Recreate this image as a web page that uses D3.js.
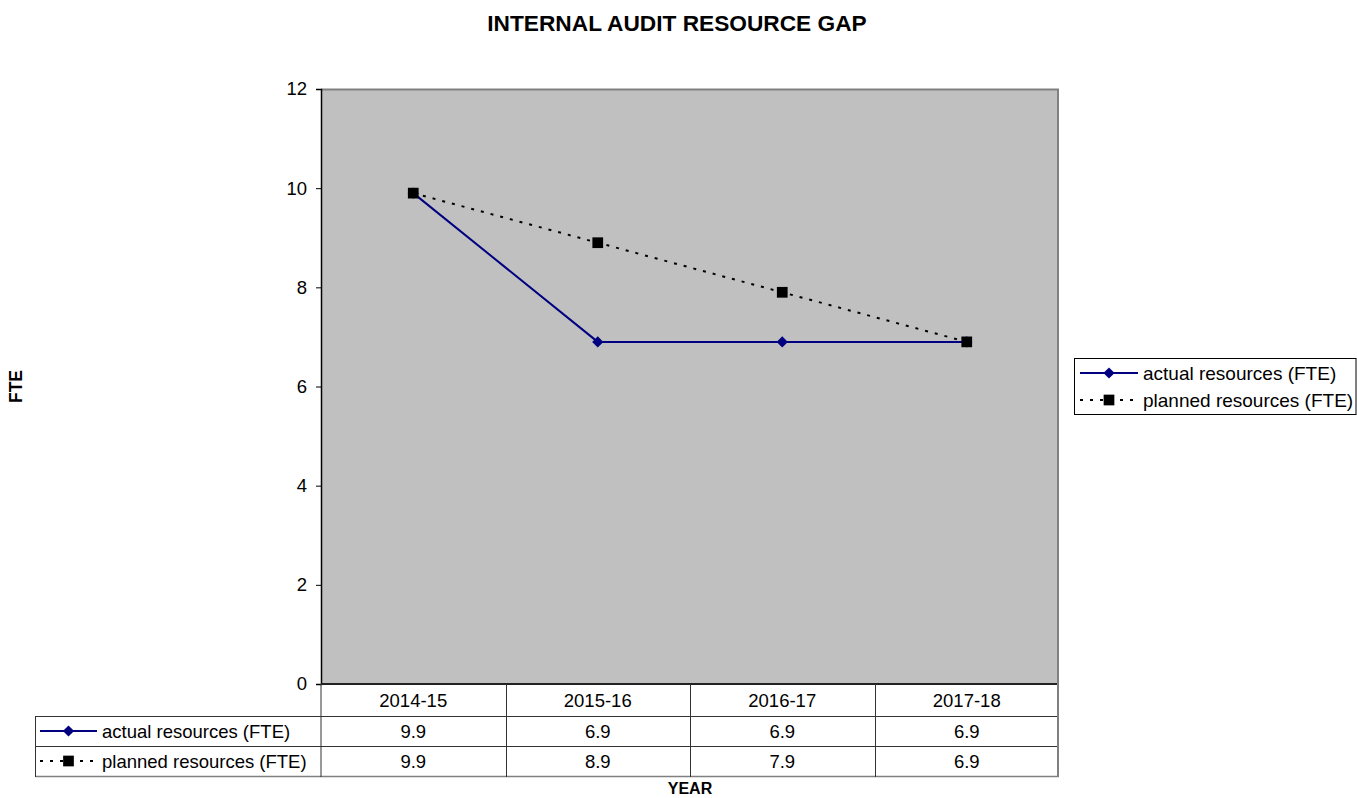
<!DOCTYPE html>
<html>
<head>
<meta charset="utf-8">
<script src="https://cdn.jsdelivr.net/npm/d3@7"></script>
<style>
  html, body { margin: 0; padding: 0; background: #fff; }
  svg { display: block; font-family: "Liberation Sans", Arial, sans-serif; }
</style>
</head>
<body>
<svg id="chart" width="1357" height="798"></svg>
<script>
const categories = ["2014-15", "2015-16", "2016-17", "2017-18"];
const actualValues = [9.9, 6.9, 6.9, 6.9];
const plannedValues = [9.9, 8.9, 7.9, 6.9];
const yTicks = [0, 2, 4, 6, 8, 10, 12];
const seriesNames = ["actual resources (FTE)", "planned resources (FTE)"];
const titleText = "INTERNAL AUDIT RESOURCE GAP";
const xTitle = "YEAR";
const yTitle = "FTE";

const svg = d3.select("#chart");
const plot = { left: 321, right: 1059, top: 89, bottom: 684 };
const FS = 18.5;

const x = d3.scaleBand().domain(categories).range([plot.left, plot.right]).padding(0);
const y = d3.scaleLinear().domain([0, 12]).range([plot.bottom, plot.top]);

// plot area
svg.append("rect")
  .attr("x", plot.left).attr("y", plot.top)
  .attr("width", plot.right - plot.left).attr("height", plot.bottom - plot.top)
  .attr("fill", "#c0c0c0");
svg.append("path")
  .attr("d", `M${plot.left},${plot.top + 0.5}H${plot.right - 1}V${plot.bottom}`)
  .attr("fill", "none").attr("stroke", "#808080").attr("stroke-width", 2);

// y axis
const yAxis = d3.axisLeft(y).tickValues(yTicks).tickSize(5).tickPadding(9).tickFormat(d3.format("d"));
const gy = svg.append("g").attr("transform", `translate(${plot.left},0)`).call(yAxis);
gy.select(".domain").attr("stroke", "#000").attr("stroke-width", 1.5);
gy.selectAll(".tick line").attr("stroke", "#000");
gy.selectAll(".tick text").attr("font-size", FS).attr("fill", "#000")
  .attr("font-family", "Liberation Sans, Arial, sans-serif");

// titles
svg.append("text").attr("x", 677).attr("y", 31).attr("text-anchor", "middle")
  .attr("font-weight", "bold").attr("font-size", 22.7).text(titleText);
svg.append("text").attr("x", (plot.left + plot.right) / 2).attr("y", 794).attr("text-anchor", "middle")
  .attr("font-weight", "bold").attr("font-size", 16).text(xTitle);
svg.append("text").attr("transform", `translate(22,${(plot.top + plot.bottom) / 2}) rotate(-90)`)
  .attr("text-anchor", "middle").attr("font-weight", "bold").attr("font-size", 17.5).text(yTitle);

// series lines
const line = d3.line().x((d, i) => x(categories[i]) + x.bandwidth() / 2).y(d => y(d));
svg.append("path").datum(plannedValues).attr("d", line)
  .attr("fill", "none").attr("stroke", "#000").attr("stroke-width", 2).attr("stroke-dasharray", "3,7");
svg.append("path").datum(actualValues).attr("d", line)
  .attr("fill", "none").attr("stroke", "#000080").attr("stroke-width", 2);

const diamond = d3.symbol().type(d3.symbolDiamond2).size(80);
const square = d3.symbol().type(d3.symbolSquare).size(115);

svg.append("g").selectAll("path").data(actualValues).join("path")
  .attr("d", diamond)
  .attr("transform", (d, i) => `translate(${x(categories[i]) + x.bandwidth() / 2},${y(d)})`)
  .attr("fill", "#000080");
svg.append("g").selectAll("path").data(plannedValues).join("path")
  .attr("d", square)
  .attr("transform", (d, i) => `translate(${x(categories[i]) + x.bandwidth() / 2},${y(d)})`)
  .attr("fill", "#000");

// data table
const rowTops = [684, 716, 746, 776];
const tableLeft = 35.5;
const tbl = svg.append("g");
categories.forEach(c => {
  tbl.append("text").attr("x", x(c) + x.bandwidth() / 2).attr("y", (rowTops[0] + rowTops[1]) / 2 + 7)
    .attr("text-anchor", "middle").attr("font-size", FS).text(c);
});
const rows = [actualValues, plannedValues];
rows.forEach((vals, r) => {
  const cy = (rowTops[r + 1] + rowTops[r + 2]) / 2;
  vals.forEach((v, i) => {
    tbl.append("text").attr("x", x(categories[i]) + x.bandwidth() / 2).attr("y", cy + 7)
      .attr("text-anchor", "middle").attr("font-size", FS).text(d3.format(".1f")(v));
  });
  tbl.append("text").attr("x", 102).attr("y", cy + 7).attr("font-size", FS).text(seriesNames[r]);
  tbl.append("line").attr("x1", 40).attr("x2", 97).attr("y1", cy).attr("y2", cy)
    .attr("stroke", r === 0 ? "#000080" : "#000").attr("stroke-width", 2)
    .attr("stroke-dasharray", r === 0 ? null : "3,7");
  tbl.append("path").attr("d", r === 0 ? diamond : square)
    .attr("transform", `translate(68.5,${cy})`).attr("fill", r === 0 ? "#000080" : "#000");
});
const gl = tbl.append("g").attr("stroke", "#333").attr("stroke-width", 1).attr("fill", "none");
gl.append("line").attr("x1", plot.left).attr("x2", plot.right).attr("y1", rowTops[0]).attr("y2", rowTops[0])
  .attr("stroke", "#222").attr("stroke-width", 2);
gl.append("line").attr("x1", tableLeft).attr("x2", plot.right).attr("y1", rowTops[1] + 0.5).attr("y2", rowTops[1] + 0.5);
gl.append("line").attr("x1", tableLeft).attr("x2", plot.right).attr("y1", rowTops[2] + 0.5).attr("y2", rowTops[2] + 0.5);
gl.append("line").attr("x1", tableLeft).attr("x2", plot.right).attr("y1", rowTops[3] + 0.5).attr("y2", rowTops[3] + 0.5)
  .attr("stroke", "#808080").attr("stroke-width", 1.5);
gl.append("line").attr("x1", tableLeft).attr("x2", tableLeft).attr("y1", rowTops[1]).attr("y2", rowTops[3] + 1);
gl.append("line").attr("x1", plot.left).attr("x2", plot.left).attr("y1", rowTops[0]).attr("y2", rowTops[3] + 1);
categories.slice(1).forEach(c => {
  gl.append("line").attr("x1", Math.round(x(c)) + 0.5).attr("x2", Math.round(x(c)) + 0.5)
    .attr("y1", rowTops[0]).attr("y2", rowTops[3] + 1);
});
gl.append("line").attr("x1", plot.right - 1).attr("x2", plot.right - 1).attr("y1", plot.top).attr("y2", rowTops[3] + 1)
  .attr("stroke", "#808080").attr("stroke-width", 2);

// legend
const lg = svg.append("g");
lg.append("rect").attr("x", 1074.5).attr("y", 358.5).attr("width", 281.5).attr("height", 56)
  .attr("fill", "#fff").attr("stroke", "#000").attr("stroke-width", 1);
seriesNames.forEach((name, r) => {
  const cy = 373 + r * 27;
  lg.append("line").attr("x1", 1080).attr("x2", 1138).attr("y1", cy).attr("y2", cy)
    .attr("stroke", r === 0 ? "#000080" : "#000").attr("stroke-width", 2)
    .attr("stroke-dasharray", r === 0 ? null : "3,7");
  lg.append("path").attr("d", r === 0 ? diamond : square)
    .attr("transform", `translate(1109,${cy})`).attr("fill", r === 0 ? "#000080" : "#000");
  lg.append("text").attr("x", 1143).attr("y", cy + 7).attr("font-size", 19).text(name);
});
</script>
</body>
</html>
